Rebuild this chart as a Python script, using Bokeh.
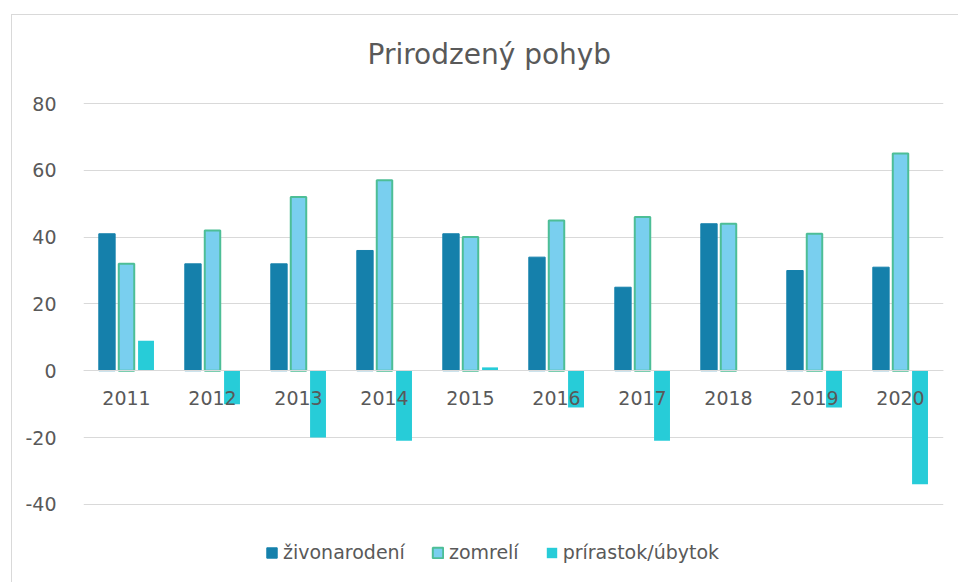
from bokeh.plotting import figure
from bokeh.models import (ColumnDataSource, Legend, LegendItem, Title, FactorRange,
                          Range1d, FixedTicker)
from bokeh.transform import dodge
from bokeh.embed import file_html
from bokeh.resources import INLINE

years = ["2011", "2012", "2013", "2014", "2015", "2016", "2017", "2018", "2019", "2020"]
zivonarodeni = [41, 32, 32, 36, 41, 34, 25, 44, 30, 31]
zomreli = [32, 42, 52, 57, 40, 45, 46, 44, 41, 65]
prirastok = [9, -10, -20, -21, 1, -11, -21, 0, -11, -34]
y_ticks = [-40, -20, 0, 20, 40, 60, 80]

FONT = "DejaVu Sans"
TXT = "#595959"
GRID = "#d9d9d9"

src = ColumnDataSource(dict(year=years, ziv=zivonarodeni, zom=zomreli, pri=prirastok))

# frame: top at 102 px (80.3), extends to bottom of page so legend sits inside it
p = figure(x_range=FactorRange(*years), y_range=Range1d(-63.7, 80.3),
           width=947, height=568, output_backend="svg", toolbar_location=None,
           min_border_left=71, min_border_right=16, min_border_top=87, min_border_bottom=0)
p.styles = {"margin-left": "11px", "margin-top": "14px",
            "border-left": "1px solid #d9d9d9", "border-top": "1px solid #d9d9d9"}
p.outline_line_color = None
p.background_fill_color = "white"
p.border_fill_color = "white"

# spacer between frame and title, then the title itself
p.add_layout(Title(text=" ", text_font_size="1px", standoff=29), "above")
p.add_layout(Title(text="Prirodzený pohyb", text_font=FONT, text_font_size="28px",
                   text_font_style="normal", text_color=TXT, align="left", offset=284,
                   vertical_align="bottom", standoff=0), "above")

# bars
r1 = p.vbar(x=dodge("year", -0.227, range=p.x_range), top="ziv", width=0.19, source=src,
            fill_color="#1580AB", line_color="#1580AB", line_width=1)
r2 = p.vbar(x=dodge("year", 0.0, range=p.x_range), top="zom", width=0.18, source=src,
            fill_color="#79CFEF", line_color="#4DBE96", line_width=2)
r3 = p.vbar(x=dodge("year", 0.227, range=p.x_range), top="pri", width=0.185, source=src,
            fill_color="#27CCD8", line_color=None)

# axes
p.yaxis.ticker = FixedTicker(ticks=y_ticks)
p.yaxis.major_label_overrides = {t: str(t) for t in y_ticks}
p.yaxis.axis_line_color = None
p.yaxis.major_tick_line_color = None
p.yaxis.minor_tick_line_color = None
p.yaxis.major_label_standoff = 21
p.yaxis.major_label_text_font = FONT
p.yaxis.major_label_text_font_size = "19px"
p.yaxis.major_label_text_color = TXT

p.xaxis.fixed_location = 0
p.xaxis.axis_line_color = GRID
p.xaxis.axis_line_width = 1
p.xaxis.major_tick_line_color = None
p.xaxis.minor_tick_line_color = None
p.xaxis.major_label_standoff = 14
p.xaxis.major_label_text_font = FONT
p.xaxis.major_label_text_font_size = "19px"
p.xaxis.major_label_text_color = TXT

p.xgrid.grid_line_color = None
p.ygrid.grid_line_color = GRID
p.ygrid.grid_line_width = 1

legend = Legend(items=[LegendItem(label="živonarodení", renderers=[r1]),
                       LegendItem(label="zomrelí", renderers=[r2]),
                       LegendItem(label="prírastok/úbytok", renderers=[r3])],
                orientation="horizontal", location=(182, 20),
                glyph_width=13, glyph_height=13, label_standoff=5, spacing=26,
                padding=0, margin=0, border_line_color=None, background_fill_alpha=0,
                label_text_font=FONT, label_text_font_size="19px", label_text_color=TXT)
p.add_layout(legend, "center")

open("out.html", "w").write(file_html(p, INLINE))
